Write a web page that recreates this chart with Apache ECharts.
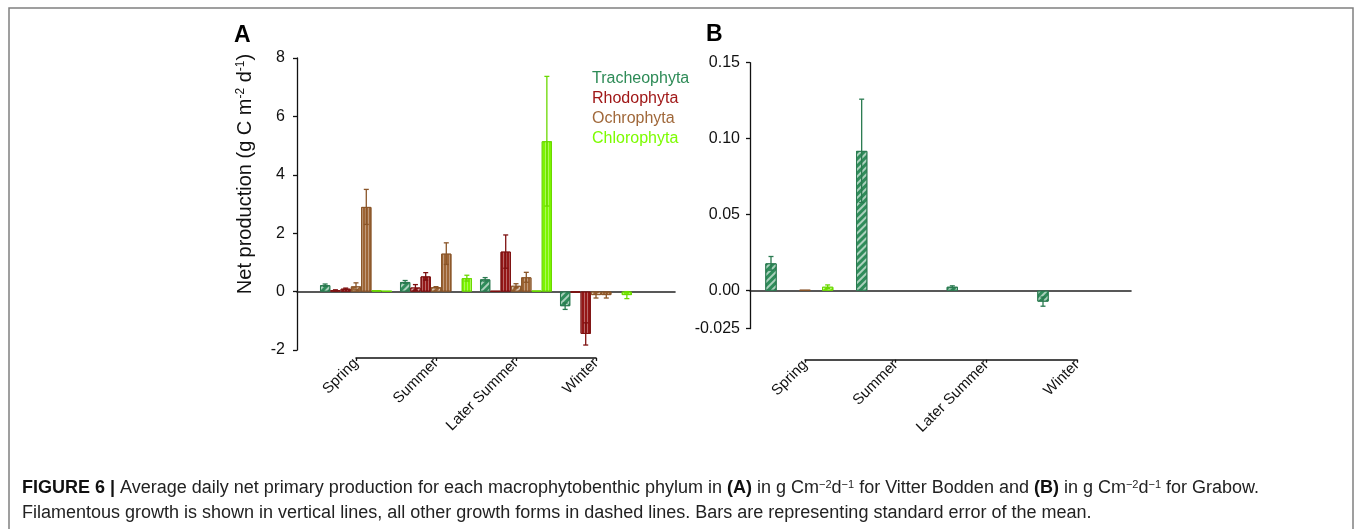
<!DOCTYPE html>
<html>
<head>
<meta charset="utf-8">
<script src="https://cdn.jsdelivr.net/npm/echarts@6/dist/echarts.min.js"></script>
<style>
html,body{margin:0;padding:0;background:#fff;}
#chart{width:1355px;height:529px;}
</style>
</head>
<body>
<div id="chart"></div>
<script>
// ---------- categories ----------
const seasons = ['Spring', 'Summer', 'Later Summer', 'Winter'];
const phyla = ['Tracheophyta', 'Rhodophyta', 'Ochrophyta', 'Chlorophyta'];

// ---------- Panel A: Vitter Bodden (g C m-2 d-1) ----------
const aTrach     = [0.22, 0.33, 0.42, -0.50];
const aTrachSE   = [0.04, 0.05, 0.06, 0.11];
const aRhodoD    = [0.05, 0.14, 0.02, -0.03];
const aRhodoDSE  = [0.01, 0.10, 0, 0];
const aRhodoF    = [0.10, 0.52, 1.37, -1.45];
const aRhodoFSE  = [0.02, 0.13, 0.57, 0.38];
const aOchroD    = [0.18, 0.15, 0.20, -0.12];
const aOchroDSE  = [0.12, 0.02, 0.07, 0.10];
const aOchroF    = [2.90, 1.30, 0.49, -0.12];
const aOchroFSE  = [0.60, 0.37, 0.17, 0.10];
const aChloroD   = [0.05, null, 0.03, null];
const aChloroDSE = [0, null, 0, null];
const aChloroF   = [0.02, 0.46, 5.15, -0.12];
const aChloroFSE = [0, 0.10, 2.22, 0.12];

// ---------- Panel B: Grabow (g C m-2 d-1) ----------
const bTrach     = [0.018, 0.092, 0.0026, -0.0072];
const bTrachSE   = [0.0045, 0.034, 0.0006, 0.003];
const bRhodoD    = [null, null, null, null];
const bRhodoF    = [null, null, null, null];
const bOchroD    = [0.0005, null, null, null];
const bOchroDSE  = [0, null, null, null];
const bOchroF    = [null, null, null, null];
const bChloroD   = [0.0026, null, null, null];
const bChloroDSE = [0.0012, null, null, null];
const bChloroF   = [null, null, null, null];
const noSE       = [null, null, null, null];

// ticks
const aTicks = [-2, 0, 2, 4, 6, 8];
const bTicks = [-0.025, 0, 0.05, 0.1, 0.15];

// ---------- styles ----------
const fill   = {Tracheophyta:'#2f8c5a', Rhodophyta:'#941717', Ochrophyta:'#9e6535', Chlorophyta:'#7cf400'};
const stroke = {Tracheophyta:'#2a7a50', Rhodophyta:'#7e1010', Ochrophyta:'#8a5528', Chlorophyta:'#6ad800'};
const legendColor = {Tracheophyta:'#2e8b57', Rhodophyta:'#a01818', Ochrophyta:'#a0683a', Chlorophyta:'#7cfc00'};

const hatchDecal = {symbol:'rect', symbolSize:1, color:'rgba(255,255,255,0.6)', dashArrayX:[1,0], dashArrayY:[1.5,2.5], rotation:-Math.PI/4};
const vertDecal  = {symbol:'rect', symbolSize:1, color:'rgba(255,255,255,0.35)', dashArrayX:[1,0], dashArrayY:[1,2], rotation:Math.PI/2};

const FONT = 'Liberation Sans, Arial, Helvetica, sans-serif';

function panelSeries(axisIdx, ratio, defs) {
  const out = [];
  const errData = [];
  defs.forEach(function (d, slot) {
    out.push({
      type: 'bar',
      name: d.name,
      xAxisIndex: axisIdx, yAxisIndex: axisIdx,
      data: d.values,
      barWidth: (ratio * 100) + '%',
      barGap: '0%',
      clip: false,
      silent: true,
      itemStyle: {
        color: fill[d.name],
        borderColor: stroke[d.name],
        borderWidth: 1,
        decal: d.fil ? vertDecal : hatchDecal
      }
    });
    d.values.forEach(function (v, i) {
      const se = d.se[i];
      if (v !== null && se) errData.push([i, v, se, slot, ratio, phyla.indexOf(d.name)]);
    });
  });
  out.push({
    type: 'custom',
    name: 'err' + axisIdx,
    xAxisIndex: axisIdx, yAxisIndex: axisIdx,
    silent: true,
    z: 5,
    encode: {x: 0, y: 1},
    data: errData,
    renderItem: function (params, api) {
      const cat = api.value(0), m = api.value(1), se = api.value(2), slot = api.value(3), r = api.value(4);
      const col = stroke[phyla[api.value(5)]];
      const band = api.size([1, 0])[0];
      const off = (slot - 3) * band * r;
      const top = api.coord([cat, m + se]);
      const bot = api.coord([cat, m - se]);
      const x = top[0] + off;
      const c = 2.5;
      const st = {stroke: col, lineWidth: 1.3};
      return {type: 'group', children: [
        {type: 'line', shape: {x1: x, y1: top[1], x2: x, y2: bot[1]}, style: st},
        {type: 'line', shape: {x1: x - c, y1: top[1], x2: x + c, y2: top[1]}, style: st},
        {type: 'line', shape: {x1: x - c, y1: bot[1], x2: x + c, y2: bot[1]}, style: st}
      ]};
    }
  });
  return out;
}

const seriesA = panelSeries(1, 0.1286, [
  {name:'Tracheophyta', values:aTrach,   se:aTrachSE,   fil:false},
  {name:'Rhodophyta',   values:aRhodoD,  se:aRhodoDSE,  fil:false},
  {name:'Rhodophyta',   values:aRhodoF,  se:aRhodoFSE,  fil:true},
  {name:'Ochrophyta',   values:aOchroD,  se:aOchroDSE,  fil:false},
  {name:'Ochrophyta',   values:aOchroF,  se:aOchroFSE,  fil:true},
  {name:'Chlorophyta',  values:aChloroD, se:aChloroDSE, fil:false},
  {name:'Chlorophyta',  values:aChloroF, se:aChloroFSE, fil:true}
]);
const seriesB = panelSeries(3, 0.125, [
  {name:'Tracheophyta', values:bTrach,   se:bTrachSE,   fil:false},
  {name:'Rhodophyta',   values:bRhodoD,  se:noSE,       fil:false},
  {name:'Rhodophyta',   values:bRhodoF,  se:noSE,       fil:true},
  {name:'Ochrophyta',   values:bOchroD,  se:bOchroDSE,  fil:false},
  {name:'Ochrophyta',   values:bOchroF,  se:noSE,       fil:true},
  {name:'Chlorophyta',  values:bChloroD, se:bChloroDSE, fil:false},
  {name:'Chlorophyta',  values:bChloroF, se:noSE,       fil:true}
]);

function zeroXAxis(gi) {
  return {type:'value', gridIndex:gi, min:0, max:1, axisLabel:{show:false}, axisTick:{show:false}, splitLine:{show:false},
    axisLine:{show:true, onZero:true, lineStyle:{color:'#222', width:1.6}}};
}
function catXAxis(gi, offset) {
  return {type:'category', gridIndex:gi, data:seasons, boundaryGap:false, position:'bottom', offset:offset,
    axisLine:{show:true, onZero:false, lineStyle:{color:'#111', width:1.5}},
    axisTick:{show:true, length:3, lineStyle:{color:'#111', width:1.3}},
    axisLabel:{rotate:45, margin:3, fontSize:15, color:'#111', fontFamily:FONT, interval:0},
    splitLine:{show:false}};
}
function visYAxis(gi, min, max, ticks, fmt, margin) {
  return {type:'value', gridIndex:gi, min:min, max:max,
    axisLine:{show:true, onZero:false, lineStyle:{color:'#111', width:1.3}},
    axisTick:{show:true, length:4, customValues:ticks, lineStyle:{color:'#111', width:1.3}},
    axisLabel:{customValues:ticks, formatter:fmt, margin:margin, fontSize:16, color:'#111', fontFamily:FONT},
    splitLine:{show:false}};
}
function hidYAxis(gi, min, max) {
  return {type:'value', gridIndex:gi, min:min, max:max, show:false, splitLine:{show:false}};
}

const option = {
  animation: false,
  backgroundColor: '#ffffff',
  textStyle: {fontFamily: FONT},
  grid: [
    {left:297, top:58, width:378, height:292},
    {left:356, top:58, width:240, height:292},
    {left:750, top:62.7, width:381, height:266},
    {left:805, top:62.7, width:272, height:266}
  ],
  xAxis: [zeroXAxis(0), catXAxis(1, 8), zeroXAxis(2), catXAxis(3, 31)],
  yAxis: [
    visYAxis(0, -2, 8, aTicks, function (v) { return String(v); }, 12),
    hidYAxis(1, -2, 8),
    visYAxis(2, -0.025, 0.15, bTicks, function (v) { return Math.abs(v + 0.025) < 1e-9 ? '-0.025' : v.toFixed(2); }, 10),
    hidYAxis(3, -0.025, 0.15)
  ],
  legend: {
    orient:'vertical', left:582, top:66, itemGap:4, itemWidth:0, itemHeight:16, icon:'none',
    selectedMode:false,
    textStyle:{fontSize:16, fontFamily:FONT},
    data: phyla.map(function (p) { return {name:p, icon:'none', textStyle:{color:legendColor[p]}}; })
  },
  series: seriesA.concat(seriesB),
  graphic: [
    {type:'rect', silent:true, shape:{x:9, y:8, width:1344, height:540}, style:{fill:'none', stroke:'#808080', lineWidth:1.5}},
    {type:'text', silent:true, x:234, y:36, style:{text:'A', font:'bold 23px ' + FONT, fill:'#000', verticalAlign:'middle'}},
    {type:'text', silent:true, x:706, y:35, style:{text:'B', font:'bold 23px ' + FONT, fill:'#000', verticalAlign:'middle'}},
    {type:'text', silent:true, x:245, y:174, rotation:Math.PI/2,
      style:{text:'Net production (g C m{sup|-2} d{sup|-1})', font:'20px ' + FONT, fill:'#111', align:'center', verticalAlign:'middle',
        rich:{sup:{fontSize:12, verticalAlign:'top', fill:'#111'}}}},
    {type:'text', silent:true, x:22, y:488,
      style:{text:'{b|FIGURE 6 |} Average daily net primary production for each macrophytobenthic phylum in {b|(A)} in g Cm{sup|\u22122}d{sup|\u22121} for Vitter Bodden and {b|(B)} in g Cm{sup|\u22122}d{sup|\u22121} for Grabow.',
        font:'18px ' + FONT, fill:'#222', verticalAlign:'middle',
        rich:{b:{fontWeight:'bold', fontSize:18, fill:'#111'}, sup:{fontSize:11, verticalAlign:'top', fill:'#222'}}}},
    {type:'text', silent:true, x:22, y:513,
      style:{text:'Filamentous growth is shown in vertical lines, all other growth forms in dashed lines. Bars are representing standard error of the mean.',
        font:'18px ' + FONT, fill:'#222', verticalAlign:'middle'}}
  ]
};

const chart = echarts.init(document.getElementById('chart'), null, {renderer:'canvas'});
chart.setOption(option);
</script>
</body>
</html>
